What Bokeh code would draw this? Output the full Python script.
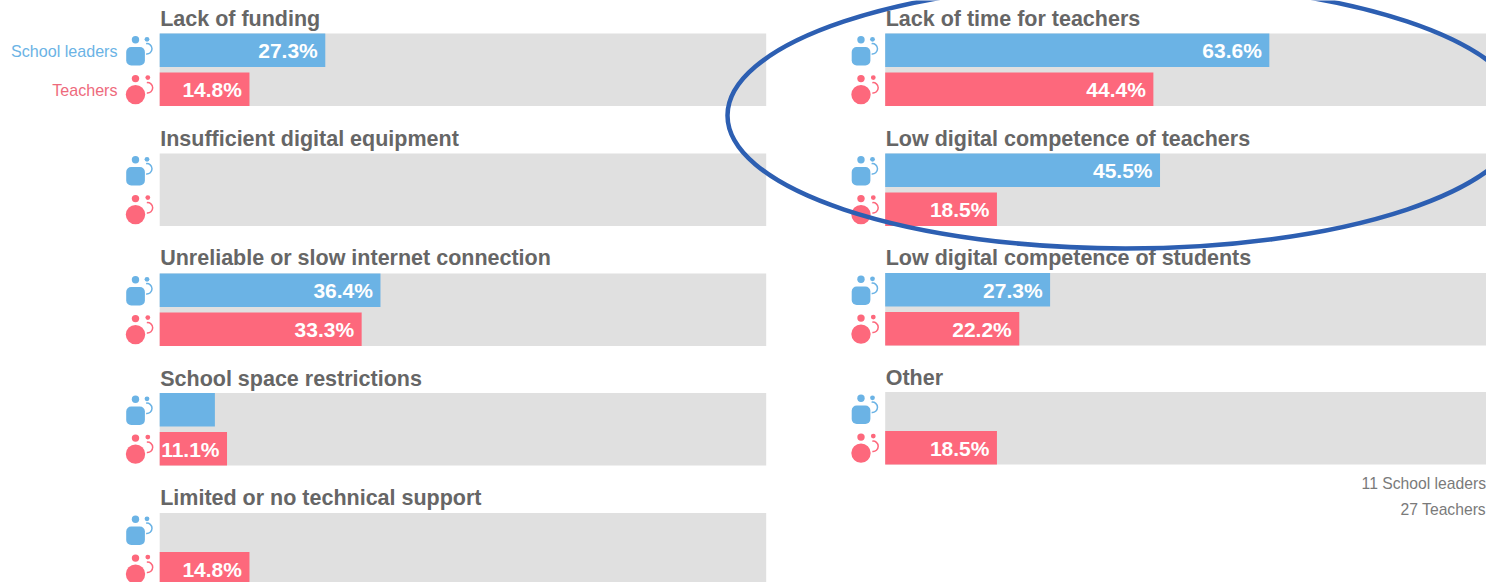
from bokeh.plotting import figure
from bokeh.models import Range1d
from bokeh.core.properties import value
from bokeh.embed import file_html
from bokeh.resources import INLINE

# ---- data ----
left_titles = ["Lack of funding", "Insufficient digital equipment",
               "Unreliable or slow internet connection", "School space restrictions",
               "Limited or no technical support"]
left_leaders = [27.3, 0, 36.4, 9.1, 0]
left_teachers = [14.8, 0, 33.3, 11.1, 14.8]
left_leader_labels = ["27.3%", "", "36.4%", "", ""]
left_teacher_labels = ["14.8%", "", "33.3%", "11.1%", "14.8%"]

right_titles = ["Lack of time for teachers", "Low digital competence of teachers",
                "Low digital competence of students", "Other"]
right_leaders = [63.6, 45.5, 27.3, 0]
right_teachers = [44.4, 18.5, 22.2, 18.5]
right_leader_labels = ["63.6%", "45.5%", "27.3%", ""]
right_teacher_labels = ["44.4%", "18.5%", "22.2%", "18.5%"]

series_names = ["School leaders", "Teachers"]
footer = ["11 School leaders", "27 Teachers"]
FULL = 100

# ---- layout / style ----
W, H = 1486, 582
BLUE, PINK, GRAY, TITLE, FOOT = "#6bb3e5", "#fd687c", "#e0e0e0", "#666666", "#7a7a7a"
RING = "#2d5fb2"
FONT = value("Liberation Sans")
PX_L, PX_R = 6.065, 6.04
L0, R0 = 159.2, 884.7
left_tops = [33, 153, 273, 392.5, 512.5]
right_tops = [33, 153, 272.5, 391.5]
left_title_y = [18, 138, 257.5, 378.5, 497.5]
right_title_y = [18, 138, 257, 377.5]
BAR_H = 33.5
GAP2 = 39

p = figure(width=W, height=H, output_backend="svg", toolbar_location=None,
           x_range=Range1d(0, W), y_range=Range1d(H, 0), min_border=0,
           outline_line_color=None, background_fill_color="white")
p.axis.visible = False
p.grid.visible = False
p.styles = {"position": "absolute", "left": "0", "top": "0"}
p.extra_x_ranges = {
    "lpct": Range1d(-L0 / PX_L, (W - L0) / PX_L),
    "rpct": Range1d(-R0 / PX_R, (W - R0) / PX_R),
}


def icons(dx, tops):
    for t in tops:
        # school leader: head, rounded body, small head and arc
        p.circle([135 + dx], [t + 6.3], radius=3.7, color=BLUE, line_color=None)
        p.quad(left=[125.7 + dx], right=[144.4 + dx], top=[t + 13.5], bottom=[t + 32],
               fill_color=BLUE, line_color=None, border_radius=5)
        p.circle([146.5 + dx], [t + 5.8], radius=2.4, color=BLUE, line_color=None)
        p.arc([146.3 + dx], [t + 15.3], radius=5.2, start_angle=-1.7, end_angle=1.7,
              color=BLUE, line_width=1.5, direction="anticlock")
        # teacher: head, round body, small head and arc
        b = t + GAP2
        p.circle([135 + dx], [b + 6.1], radius=3.7, color=PINK, line_color=None)
        p.circle([135 + dx], [b + 22.1], radius=9.7, color=PINK, line_color=None)
        p.circle([147.3 + dx], [b + 5.1], radius=2.4, color=PINK, line_color=None)
        p.arc([147 + dx], [b + 15.3], radius=5.2, start_angle=-1.7, end_angle=1.7,
              color=PINK, line_width=1.5, direction="anticlock")


def panel(rng, tops, title_y, titles, leaders, teachers, l_lab, t_lab):
    y2 = [t + GAP2 for t in tops]
    zeros = [0] * len(tops)
    p.quad(left=zeros, right=[FULL] * len(tops), top=tops,
           bottom=[t + GAP2 + BAR_H for t in tops], fill_color=GRAY, line_color=None, x_range_name=rng)
    p.quad(left=zeros, right=leaders, top=tops, bottom=[t + BAR_H for t in tops],
           fill_color=BLUE, line_color=None, x_range_name=rng)
    p.quad(left=zeros, right=teachers, top=y2, bottom=[t + BAR_H for t in y2],
           fill_color=PINK, line_color=None, x_range_name=rng)
    for vals, labs, ys in ((leaders, l_lab, tops), (teachers, t_lab, y2)):
        p.text(x=vals, y=[t + 17 for t in ys], text=labs, x_range_name=rng, x_offset=-7.5,
               text_align="right", text_baseline="middle", text_color="white",
               text_font=FONT, text_font_style="bold", text_font_size="21px")
    p.text(x=zeros[:len(titles)], y=title_y, text=titles, x_range_name=rng, x_offset=0.5,
           text_align="left", text_baseline="middle", text_color=TITLE,
           text_font=FONT, text_font_style="bold", text_font_size="21.5px")


panel("lpct", left_tops, left_title_y, left_titles, left_leaders, left_teachers,
      left_leader_labels, left_teacher_labels)
panel("rpct", right_tops, right_title_y, right_titles, right_leaders, right_teachers,
      right_leader_labels, right_teacher_labels)
icons(0, left_tops)
icons(R0 - L0, right_tops)

# series names
p.text(x=[117, 117], y=[50.5, 89], text=series_names, text_align="right", text_baseline="middle",
       text_color=[BLUE, "#ee6a7c"], text_font=FONT, text_font_size="16.1px")

# footer
p.text(x=[1485.5, 1485.5], y=[483, 509], text=footer, text_align="right", text_baseline="middle",
       text_color=FOOT, text_font=FONT, text_font_size="15.7px")

# hand-drawn ring
p.ellipse(x=[1125], y=[115], width=[796], height=[266], fill_color=None, line_color=RING, line_width=4.5)

open("out.html", "w").write(file_html(p, INLINE))
